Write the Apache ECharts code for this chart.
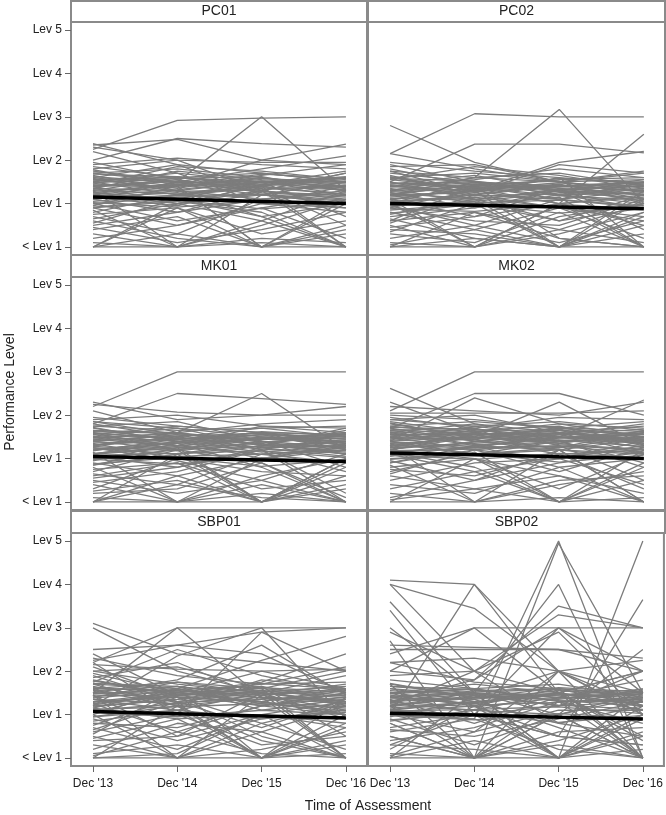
<!DOCTYPE html>
<html><head><meta charset="utf-8">
<script src="https://cdn.jsdelivr.net/npm/echarts@6/dist/echarts.min.js"></script>
<style>html,body{margin:0;padding:0;background:#fff}#c{width:666px;height:815px}</style>
</head><body><div id="c"></div>
<script>
const times = ["Dec '13", "Dec '14", "Dec '15", "Dec '16"];
const levelLabels = ["< Lev 1", "Lev 1", "Lev 2", "Lev 3", "Lev 4", "Lev 5"];
const panelNames = ["PC01", "PC02", "MK01", "MK02", "SBP01", "SBP02"];

const pc01 = [
[2.25,2.92,2.97,3.0],[1.1,1.5,3.0,1.3],[2.0,2.5,2.38,2.3],[2.35,2.48,2.0,1.9],[1.6,1.4,2.0,2.37],
[2.38,1.9,1.7,1.5],[2.3,2.0,1.95,1.95],[2.2,1.7,1.5,1.6],[1.9,2.05,1.9,1.8],[1.8,2.0,1.3,1.7],
[1.75,1.5,1.8,2.1],[1.7,1.8,1.6,1.4],[1.65,1.3,1.5,1.2],[1.6,1.9,1.2,1.0],[1.55,1.6,1.7,1.5],
[1.5,1.2,1.4,1.6],[1.5,1.7,1.0,0.9],[1.45,1.4,1.6,1.3],[1.4,1.0,1.2,1.5],[1.4,1.55,1.3,1.1],
[1.35,1.3,1.1,1.25],[1.3,1.6,1.4,0.0],[1.3,0.0,1.2,1.0],[1.25,1.1,1.5,1.4],[1.2,1.4,0.0,1.1],
[1.2,1.0,1.3,1.7],[1.15,1.25,1.0,0.8],[1.1,0.8,1.1,1.3],[1.1,1.3,0.7,1.0],[1.05,1.2,1.35,0.5],
[1.0,0.6,0.9,1.2],[1.0,1.15,1.2,1.05],[0.95,1.4,0.0,0.3],[0.9,0.5,1.0,1.4],[0.9,1.05,0.8,0.0],
[0.85,0.0,0.5,1.1],[0.8,1.2,1.5,0.7],[0.75,0.9,0.3,0.6],[0.7,0.3,1.1,0.9],[0.65,1.0,0.6,1.3],
[0.6,0.2,0.0,0.4],[0.5,0.8,1.3,0.0],[0.45,0.1,0.4,0.8],[0.4,0.7,0.0,1.0],[0.3,0.0,0.2,0.1],
[0.2,0.5,0.9,0.2],[0.0,0.0,0.1,0.0],[0.0,0.3,0.0,0.5],[0.0,1.0,1.4,1.2],[0.0,0.9,0.0,0.0],
[0.1,0.0,0.6,0.0],[1.7,1.5,1.45,1.75],[1.85,1.6,1.5,1.3],[1.55,1.35,1.65,1.9],[1.35,1.75,1.55,1.45],
[1.25,1.45,1.2,1.5],[1.15,0.95,1.45,1.35],[0.55,1.1,0.7,0.0],[1.45,1.85,1.75,1.55],[1.95,1.55,1.25,1.15],
[1.62,1.48,1.52,1.38],[1.52,1.62,1.42,1.58],[1.42,1.38,1.58,1.48],[1.38,1.52,1.36,1.22],[1.28,1.42,1.48,1.62],
[1.58,1.28,1.32,1.42],[1.48,1.58,1.62,1.28],[1.32,1.22,1.42,1.52],[1.22,1.48,1.28,1.18],[1.68,1.62,1.38,1.32],
[1.78,1.42,1.68,1.58],[1.18,1.32,1.52,1.36],[1.12,1.18,1.22,1.08],[1.02,0.92,1.08,0.98],[0.92,1.08,0.88,1.02]
];
const pc02 = [
[2.8,1.95,1.5,1.3],[2.15,3.07,3.0,3.0],[1.2,1.6,3.17,1.0],[1.5,2.37,2.37,2.17],[1.1,0.0,1.0,2.6],
[1.6,1.3,1.95,2.2],[1.9,1.5,1.4,1.3],[2.15,1.8,1.5,1.7],[1.85,1.9,1.5,1.0],[1.8,1.4,1.55,1.6],
[1.7,1.5,1.3,1.2],[1.65,1.2,1.4,1.5],[1.6,1.7,1.5,1.55],[1.55,1.35,1.0,1.2],[1.5,1.1,1.3,1.4],
[1.45,1.5,1.2,0.9],[1.4,1.3,1.45,1.1],[1.35,1.0,0.0,1.3],[1.3,1.4,1.1,1.5],[1.25,0.9,1.2,1.0],
[1.2,1.25,1.6,0.0],[1.15,1.3,1.0,1.15],[1.1,0.7,1.35,1.2],[1.05,1.15,0.9,0.6],[1.0,1.2,1.1,0.9],
[1.0,0.0,0.7,1.0],[0.95,1.05,1.25,1.35],[0.9,1.3,0.0,0.8],[0.9,0.6,0.5,1.1],[0.85,1.0,1.15,0.0],
[0.8,0.4,0.9,0.7],[0.75,1.1,0.6,1.2],[0.7,0.9,1.3,0.4],[0.65,0.2,0.0,0.5],[0.6,0.8,0.4,1.0],
[0.55,1.2,0.9,0.2],[0.5,0.0,0.3,0.8],[0.45,0.7,1.0,0.0],[0.4,0.3,0.0,0.3],[0.35,1.0,0.6,0.9],
[0.3,0.1,0.8,0.0],[0.2,0.5,0.1,0.6],[0.1,0.0,0.4,0.1],[0.0,0.2,0.0,0.0],[0.0,0.0,1.0,0.5],
[0.0,0.8,0.2,0.0],[0.05,0.4,0.0,1.1],[1.75,1.6,1.7,1.4],[1.4,1.55,1.8,1.6],[1.3,1.6,1.5,1.75],
[1.2,1.45,1.35,1.05],[1.1,1.35,1.4,1.5],[1.0,1.5,1.2,1.25],[1.95,1.75,1.6,1.45],[1.55,1.85,1.65,1.35],
[0.95,0.5,1.1,1.3],[1.25,1.1,0.0,0.7],[0.6,1.4,0.2,0.0],[1.75,1.25,1.9,1.7],[1.45,1.65,1.3,1.55],
[1.48,1.38,1.42,1.28],[1.38,1.48,1.32,1.45],[1.28,1.32,1.48,1.38],[1.22,1.42,1.28,1.12],[1.18,1.28,1.38,1.48],
[1.42,1.18,1.22,1.32],[1.32,1.45,1.52,1.18],[1.12,1.08,1.32,1.42],[1.08,1.38,1.18,1.08],[1.58,1.52,1.28,1.22],
[1.62,1.32,1.58,1.48],[1.02,1.22,1.42,1.28],[0.98,1.02,1.08,0.95],[0.88,0.82,0.98,0.88],[0.78,0.98,0.78,0.92]
];
const mk01 = [
[2.2,3.0,3.0,3.0],[1.8,2.5,2.38,2.25],[1.3,1.6,2.5,1.2],[2.3,1.9,2.0,2.2],[2.25,2.07,2.0,2.0],
[2.1,1.6,1.8,1.9],[1.9,2.0,1.75,1.6],[1.85,1.7,1.5,1.4],[1.8,1.5,1.7,1.75],[1.75,1.85,1.4,1.1],
[1.7,1.4,1.55,1.5],[1.65,1.6,1.3,1.7],[1.6,1.2,1.5,1.3],[1.55,1.75,1.6,1.45],[1.5,1.4,1.0,1.2],
[1.45,1.3,1.45,1.55],[1.4,1.55,1.2,0.0],[1.35,1.0,1.3,1.4],[1.3,1.45,1.6,1.35],[1.25,1.1,0.0,1.0],
[1.2,1.3,1.1,1.25],[1.15,0.0,1.0,1.3],[1.1,1.25,1.35,1.1],[1.05,0.8,1.2,0.7],[1.0,1.2,0.0,0.9],
[1.0,1.05,1.1,1.2],[0.95,1.35,0.8,0.0],[0.9,0.6,1.0,1.35],[0.85,1.1,1.4,0.8],[0.8,0.0,0.6,1.0],
[0.75,0.9,0.3,0.5],[0.7,1.2,0.9,0.0],[0.65,0.4,1.1,0.9],[0.6,0.9,0.0,0.4],[0.5,0.2,0.5,1.1],
[0.45,0.7,1.2,0.2],[0.4,0.0,0.4,0.0],[0.3,1.0,0.7,0.6],[0.25,0.5,0.0,1.0],[0.2,0.3,0.9,0.1],
[0.0,0.0,0.2,0.0],[0.0,0.6,0.0,0.3],[0.0,1.1,1.3,1.15],[0.1,0.0,0.0,0.8],[0.0,0.4,0.1,0.0],
[1.85,1.55,1.45,1.6],[1.75,1.65,1.7,1.5],[1.6,1.45,1.55,1.2],[1.5,1.7,1.3,1.65],[1.4,1.2,1.5,1.45],
[1.3,1.5,1.25,1.05],[1.2,1.35,1.45,1.4],[1.1,1.4,1.15,1.3],[1.95,1.75,1.6,1.35],[1.55,1.3,1.75,1.7],
[1.45,1.6,1.4,1.25],[0.55,0.8,1.25,1.3],[1.25,0.95,0.5,0.0],[0.85,1.25,0.0,0.6],[1.65,1.45,1.6,1.55],
[1.58,1.45,1.48,1.35],[1.48,1.58,1.38,1.52],[1.38,1.35,1.55,1.45],[1.32,1.48,1.32,1.18],[1.22,1.38,1.45,1.58],
[1.52,1.22,1.28,1.38],[1.42,1.52,1.58,1.22],[1.28,1.18,1.38,1.48],[1.18,1.45,1.22,1.12],[1.62,1.58,1.32,1.28],
[1.72,1.38,1.62,1.52],[1.12,1.28,1.48,1.32],[1.08,1.12,1.18,1.02],[0.98,0.88,1.02,0.92],[0.88,1.02,0.82,0.98]
];
const mk02 = [
[2.1,3.0,3.0,3.0],[2.62,1.8,1.6,1.5],[1.7,2.5,2.5,2.0],[2.3,1.6,1.5,2.35],[1.4,2.4,1.8,1.5],
[1.2,1.5,2.3,1.3],[2.2,2.1,2.0,2.3],[2.05,2.05,2.05,2.1],[1.95,1.7,1.95,1.9],[1.9,2.0,1.6,1.4],
[1.85,1.6,1.8,1.7],[1.8,1.5,1.4,1.6],[1.75,1.85,1.7,1.5],[1.7,1.4,1.55,1.8],[1.65,1.7,1.3,1.2],
[1.6,1.3,1.5,1.45],[1.55,1.55,1.65,1.3],[1.5,1.2,1.0,1.4],[1.45,1.6,1.4,0.9],[1.4,1.1,1.25,1.5],
[1.35,1.45,1.1,1.2],[1.3,0.0,1.2,1.1],[1.25,1.35,1.5,1.35],[1.2,1.0,0.0,1.2],[1.15,1.25,1.3,0.5],
[1.1,0.7,1.0,1.3],[1.05,1.3,0.8,0.0],[1.0,1.1,1.2,1.0],[0.95,0.5,0.9,1.15],[0.9,1.2,1.4,0.8],
[0.85,0.0,0.5,0.6],[0.8,1.0,0.3,1.1],[0.75,0.6,1.1,0.3],[0.7,1.15,0.0,0.9],[0.6,0.3,0.6,0.0],
[0.5,0.9,1.0,0.4],[0.4,0.2,0.8,1.0],[0.3,0.7,0.0,0.1],[0.2,0.0,0.4,0.7],[0.1,0.5,1.2,0.0],
[0.0,0.0,0.1,0.0],[0.0,1.0,0.6,0.2],[0.05,0.3,0.0,0.5],[1.9,1.75,1.85,1.65],[1.75,1.55,1.6,1.75],
[1.6,1.8,1.45,1.55],[1.5,1.65,1.75,1.35],[1.4,1.5,1.35,1.6],[1.3,1.25,1.55,1.25],[1.2,1.55,1.2,1.45],
[1.1,1.4,1.6,1.1],[2.0,1.9,1.7,1.55],[1.65,1.4,1.25,1.65],[1.45,1.75,1.5,1.4],[1.35,1.1,1.4,1.5],
[0.65,1.2,0.7,1.25],[1.15,0.8,0.0,0.8],[0.9,1.3,1.2,0.0],[1.55,1.45,1.7,1.85],[1.25,1.6,1.35,1.15],
[1.68,1.55,1.58,1.45],[1.58,1.68,1.48,1.62],[1.48,1.45,1.65,1.55],[1.42,1.58,1.42,1.28],[1.32,1.48,1.55,1.68],
[1.62,1.32,1.38,1.48],[1.52,1.62,1.68,1.32],[1.38,1.28,1.48,1.58],[1.28,1.55,1.32,1.22],[1.72,1.68,1.42,1.38],
[1.82,1.48,1.72,1.62],[1.22,1.38,1.58,1.42],[1.18,1.22,1.28,1.12],[1.08,0.98,1.12,1.02],[0.98,1.12,0.92,1.08]
];
const sbp01 = [
[3.1,2.4,2.2,2.0],[3.0,2.0,1.5,1.3],[2.2,3.0,3.0,3.0],[1.5,3.0,1.4,1.0],[2.25,2.6,2.9,3.0],
[1.2,2.35,3.0,0.9],[2.2,1.0,2.9,2.0],[1.0,1.6,2.25,2.8],[2.5,2.6,2.4,1.5],[2.3,1.9,1.7,2.1],
[2.15,2.05,2.0,2.05],[2.0,1.7,1.5,1.9],[1.95,1.5,2.0,1.6],[1.85,2.2,1.4,1.3],[1.8,1.45,1.7,1.75],
[1.7,1.6,1.2,1.5],[1.65,1.3,1.55,1.2],[1.6,1.75,1.6,0.0],[1.55,1.2,0.0,1.4],[1.5,1.5,1.3,1.6],
[1.45,0.0,1.45,1.1],[1.4,1.65,1.1,1.35],[1.35,1.1,1.5,0.9],[1.3,1.4,0.8,1.25],[1.25,0.6,1.2,1.5],
[1.2,1.35,1.65,0.5],[1.15,0.9,1.0,1.3],[1.1,1.25,0.0,0.7],[1.05,1.5,1.3,1.0],[1.0,0.0,0.6,1.2],
[0.95,1.2,1.4,0.0],[0.9,0.4,0.9,1.1],[0.85,1.1,0.0,0.3],[0.8,0.7,1.2,1.4],[0.75,1.4,0.5,0.0],
[0.7,0.2,1.0,0.8],[0.6,1.0,0.3,0.5],[0.5,0.0,0.8,0.2],[0.45,0.9,0.0,1.0],[0.4,0.5,1.5,0.0],
[0.3,0.0,0.2,0.6],[0.2,0.8,0.6,0.0],[0.1,0.3,0.0,0.4],[0.0,0.0,0.0,0.1],[0.0,1.2,0.4,0.0],
[0.0,0.1,1.0,0.7],[0.05,0.6,0.1,0.0],[1.75,2.5,1.9,1.5],[1.5,1.8,2.6,1.45],[1.3,1.5,1.75,2.4],
[2.1,1.4,1.3,1.55],[1.6,1.55,1.45,1.7],[1.4,1.75,1.5,1.3],[1.25,1.45,1.6,1.45],[1.15,1.6,1.25,1.15],
[1.9,1.3,1.5,1.25],[0.65,1.3,0.7,1.35],[1.45,0.5,1.0,0.0],[2.0,2.1,1.6,2.0],[0.55,1.6,0.0,0.8],
[1.7,1.2,1.8,1.6],[2.4,1.45,1.2,1.0],
[1.62,1.52,1.55,1.42],[1.55,1.65,1.45,1.6],[1.45,1.42,1.62,1.52],[1.38,1.55,1.38,1.25],[1.28,1.45,1.52,1.65],
[1.58,1.28,1.35,1.45],[1.48,1.58,1.65,1.28],[1.35,1.25,1.45,1.55],[1.22,1.52,1.28,1.18],[1.72,1.65,1.38,1.35],
[1.78,1.45,1.72,1.58],[1.18,1.35,1.55,1.38],[1.12,1.18,1.25,1.08],[1.05,0.95,1.1,1.0],[0.95,1.1,0.9,1.05]
];
const sbp02 = [
[4.1,4.0,2.0,1.5],[4.0,3.45,2.0,1.2],[4.0,2.0,0.8,0.5],[3.6,1.5,0.0,1.0],[3.4,1.0,0.5,0.3],
[1.0,4.0,1.5,0.0],[1.0,0.9,5.0,0.0],[0.5,0.0,4.95,1.5],[1.2,1.5,4.0,0.0],[1.3,1.8,3.5,3.0],
[0.8,0.0,0.0,5.0],[1.5,1.0,0.5,3.65],[2.0,3.0,3.0,3.0],[2.5,2.5,2.5,2.0],[2.9,2.0,3.3,3.0],
[2.6,2.55,2.5,2.3],[2.4,3.0,1.5,0.5],[2.2,2.3,2.0,2.25],[1.2,2.0,2.9,1.0],[2.0,1.8,3.0,1.5],
[1.9,2.0,1.5,2.0],[1.8,1.6,1.7,1.4],[1.7,0.0,1.0,2.5],[1.65,1.5,1.4,1.8],[1.6,1.3,0.0,1.5],
[1.5,1.7,1.5,1.2],[1.45,1.2,1.6,0.0],[1.4,1.5,1.2,1.6],[1.35,0.8,1.4,1.3],[1.3,1.4,2.0,1.0],
[1.25,1.1,1.0,1.4],[1.2,0.0,1.3,0.8],[1.15,1.3,0.8,1.2],[1.1,1.0,1.2,2.0],[1.05,1.2,0.0,0.6],
[1.0,0.6,1.1,1.1],[0.95,1.35,0.7,0.0],[0.9,0.3,1.0,1.5],[0.85,1.1,1.5,0.4],[0.8,0.0,0.4,1.0],
[0.7,1.0,0.0,0.2],[0.65,0.5,0.9,1.3],[0.6,0.9,0.2,0.0],[0.5,0.0,0.6,0.7],[0.4,0.7,1.3,0.0],
[0.3,0.2,0.0,0.9],[0.2,1.2,0.5,0.3],[0.1,0.0,1.0,0.0],[0.0,0.4,0.0,0.5],[0.0,0.0,0.3,0.0],
[0.0,1.5,0.0,1.2],[0.05,0.6,2.0,0.0],[1.7,1.4,1.45,1.5],[1.5,1.6,1.3,1.35],[1.4,1.25,1.5,1.1],
[1.3,1.55,1.6,1.4],[1.2,1.4,1.35,1.55],[1.6,1.45,1.2,1.3],[2.2,1.75,1.6,1.45],[1.1,1.3,1.5,2.0],
[3.0,1.5,1.0,0.0],[2.7,0.0,2.0,1.0],[0.3,1.0,3.0,2.0],
[1.55,1.45,1.48,1.38],[1.48,1.58,1.38,1.52],[1.38,1.35,1.55,1.45],[1.32,1.48,1.32,1.2],[1.22,1.38,1.45,1.58],
[1.52,1.22,1.28,1.38],[1.42,1.52,1.58,1.22],[1.28,1.18,1.38,1.48],[1.18,1.45,1.22,1.12],[1.65,1.58,1.32,1.28],
[1.72,1.38,1.62,1.52],[1.12,1.28,1.48,1.32],[1.08,1.12,1.18,1.02],[0.98,0.88,1.02,0.92],[0.88,1.02,0.82,0.98]
];
const meanPC01 = [1.15, 1.10, 1.05, 1.00];
const meanPC02 = [1.00, 0.96, 0.92, 0.88];
const meanMK01 = [1.05, 1.01, 0.97, 0.93];
const meanMK02 = [1.13, 1.09, 1.04, 1.00];
const meanSBP01 = [1.07, 1.02, 0.97, 0.92];
const meanSBP02 = [1.03, 0.99, 0.94, 0.90];

const panelData = [pc01, pc02, mk01, mk02, sbp01, sbp02];
const panelMeans = [meanPC01, meanPC02, meanMK01, meanMK02, meanSBP01, meanSBP02];

const colLeft = [71, 368], colWidth = [296, 297];
const rowTop = [22, 277, 533], plotH = 233, stripH = 21;
const FONT = "'Liberation Sans', Arial, sans-serif";
const BORDER = '#8a8a8a';

const grids = [], xAxes = [], yAxes = [], series = [], graphics = [];
for (let p = 0; p < 6; p++) {
  const r = Math.floor(p / 2), c = p % 2;
  grids.push({left: colLeft[c], top: rowTop[r], width: colWidth[c], height: plotH,
    show: true, borderColor: BORDER, borderWidth: 2, backgroundColor: '#fff', containLabel: false});
  const bottom = r === 2;
  xAxes.push({gridIndex: p, type: 'value', min: -0.261, max: 3.25, position: 'bottom',
    axisLine: {show: true, onZero: false, lineStyle: {color: BORDER, width: 2}}, splitLine: {show: false},
    axisTick: {show: bottom, length: 6, lineStyle: {color: '#666', width: 1}, customValues: [0,1,2,3]},
    axisLabel: {show: bottom, customValues: [0,1,2,3], formatter: v => times[Math.round(v)],
      fontFamily: FONT, fontSize: 12, color: '#222', margin: 12}});
  const left = c === 0;
  yAxes.push({gridIndex: p, type: 'value', min: -0.185, max: 5.185, position: 'left',
    axisLine: {show: true, onZero: false, lineStyle: {color: BORDER, width: 2}}, splitLine: {show: false},
    axisTick: {show: left, length: 6, lineStyle: {color: '#666', width: 1}, customValues: [0,1,2,3,4,5]},
    axisLabel: {show: left, customValues: [0,1,2,3,4,5], formatter: v => levelLabels[Math.round(v)],
      fontFamily: FONT, fontSize: 12, color: '#222', margin: 9}});
  panelData[p].forEach(vals => {
    series.push({type: 'line', xAxisIndex: p, yAxisIndex: p, symbol: 'none', silent: true,
      lineStyle: {color: '#7c7c7c', width: 1.3}, z: 2,
      data: vals.map((v, i) => [i, v])});
  });
  series.push({type: 'line', xAxisIndex: p, yAxisIndex: p, symbol: 'none', silent: true,
    lineStyle: {color: '#000', width: 3.5}, z: 5,
    data: panelMeans[p].map((v, i) => [i, v])});
  const sy = r === 0 ? 1 : rowTop[r] - stripH - 1;
  const sh = r === 0 ? 21 : stripH + 1;
  graphics.push({type: 'rect', shape: {x: colLeft[c], y: sy, width: colWidth[c], height: sh},
    style: {fill: '#fff', stroke: BORDER, lineWidth: 2}, z: 10});
  graphics.push({type: 'text', x: colLeft[c] + colWidth[c] / 2, y: sy + sh / 2,
    style: {text: panelNames[p], font: '14px ' + FONT, fill: '#222', textAlign: 'center', textVerticalAlign: 'middle'}, z: 11});
}
graphics.push({type: 'text', x: 10, y: 392, rotation: Math.PI / 2,
  style: {text: 'Performance Level', font: '14px ' + FONT, fill: '#222', textAlign: 'center', textVerticalAlign: 'middle'}});
graphics.push({type: 'text', x: 368, y: 806,
  style: {text: 'Time of Assessment', font: '14px ' + FONT, fill: '#222', textAlign: 'center', textVerticalAlign: 'middle'}});

const chart = echarts.init(document.getElementById('c'), null, {renderer: 'canvas'});
chart.setOption({animation: false, grid: grids, xAxis: xAxes, yAxis: yAxes, series: series, graphic: graphics});
</script></body></html>
